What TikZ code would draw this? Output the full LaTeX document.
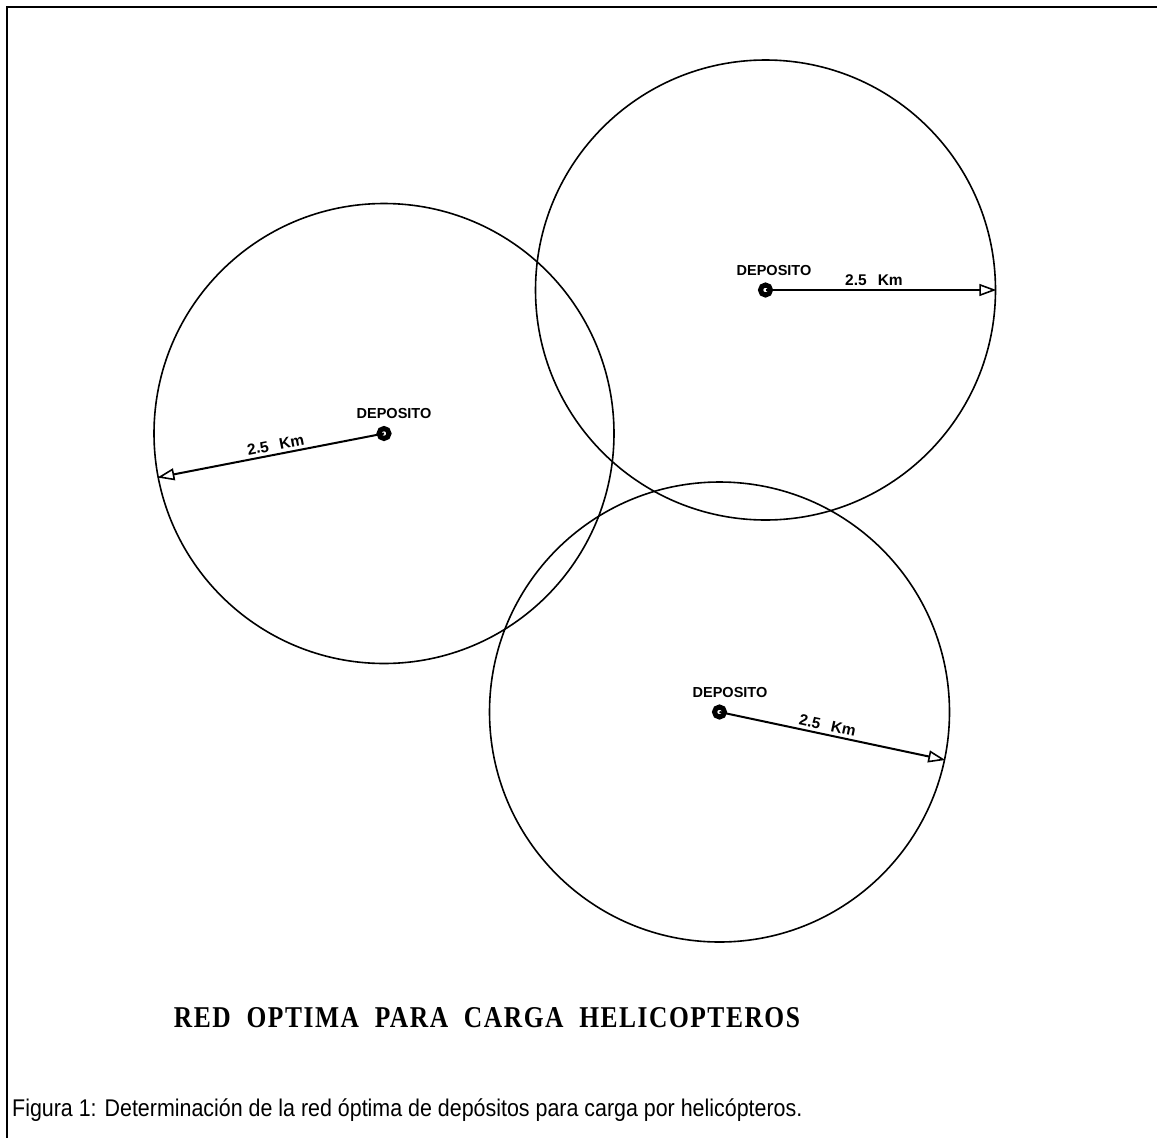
\documentclass[tikz,border=0pt]{standalone}
\usepackage{fontspec}
\usepackage{graphicx}
\setmainfont{Liberation Serif}
\newfontfamily\capfont{Liberation Sans}
\newfontfamily\lblfont{Liberation Sans}
\usetikzlibrary{arrows.meta}

\begin{document}
\begin{tikzpicture}[x=1pt,y=-1pt,
  cover/.style={circle, draw, line width=1.6pt, minimum size=460pt, inner sep=0pt},
  depot/.style={circle, draw, line width=5pt, minimum size=10pt, inner sep=0pt},
  dimline/.style={line width=2pt, -{Triangle[open, length=17pt, width=12pt, line width=1.6pt]}},
  deplabel/.style={anchor=base, inner sep=0pt, font=\lblfont\bfseries\fontsize{14.5pt}{17pt}\selectfont},
  kmlabel/.style={inner sep=0pt, font=\lblfont\bfseries\fontsize{15.5pt}{18pt}\selectfont},
]
\useasboundingbox (0,0) rectangle (1157,1138);
\fill[white] (0,0) rectangle (1157,1138);
% frame
\draw[line width=2pt] (1157,7) -- (7,7) -- (7,1138);

% coverage circles
\node[cover] (c1) at (765.5,290) {};
\node[cover] (c2) at (384,433.5) {};
\node[cover] (c3) at (719.5,712) {};

% radius dimension lines
\draw[dimline] (c1.center) -- (c1.0)
  node[pos=0.47, sloped, above=3pt, kmlabel] (k1) {2.5\hspace{11pt}Km};
\draw[dimline] (c2.center) -- (c2.191.2)
  node[pos=0.47, sloped, above=3pt, kmlabel] (k2) {2.5\hspace{11pt}Km};
\draw[dimline] (c3.center) -- (c3.348.9)
  node[pos=0.47, sloped, above=3pt, kmlabel] (k3) {2.5\hspace{11pt}Km};

% depots
\node[depot] (d1) at (c1.center) {};
\node[depot] (d2) at (c2.center) {};
\node[depot] (d3) at (c3.center) {};
\node[deplabel] (l1) at (774,275) {DEPOSITO};
\node[deplabel] (l2) at (394,418) {DEPOSITO};
\node[deplabel] (l3) at (730,697) {DEPOSITO};

% title
\node[anchor=base, inner sep=0pt] (title) at (487,1027)
  {\resizebox{626pt}{20pt}{\fontsize{27pt}{30pt}\selectfont\bfseries\addfontfeature{LetterSpace=6}RED\ \ OPTIMA\ \ PARA\ \ CARGA\ \ HELICOPTEROS}};

% caption
\node[anchor=base west, inner sep=0pt] (caption) at (12,1116)
  {\scalebox{1.02}[1.15]{\capfont\fontsize{21pt}{25pt}\selectfont Figura 1: Determinación de la red óptima de depósitos para carga por helicópteros.}};
\end{tikzpicture}
\end{document}
